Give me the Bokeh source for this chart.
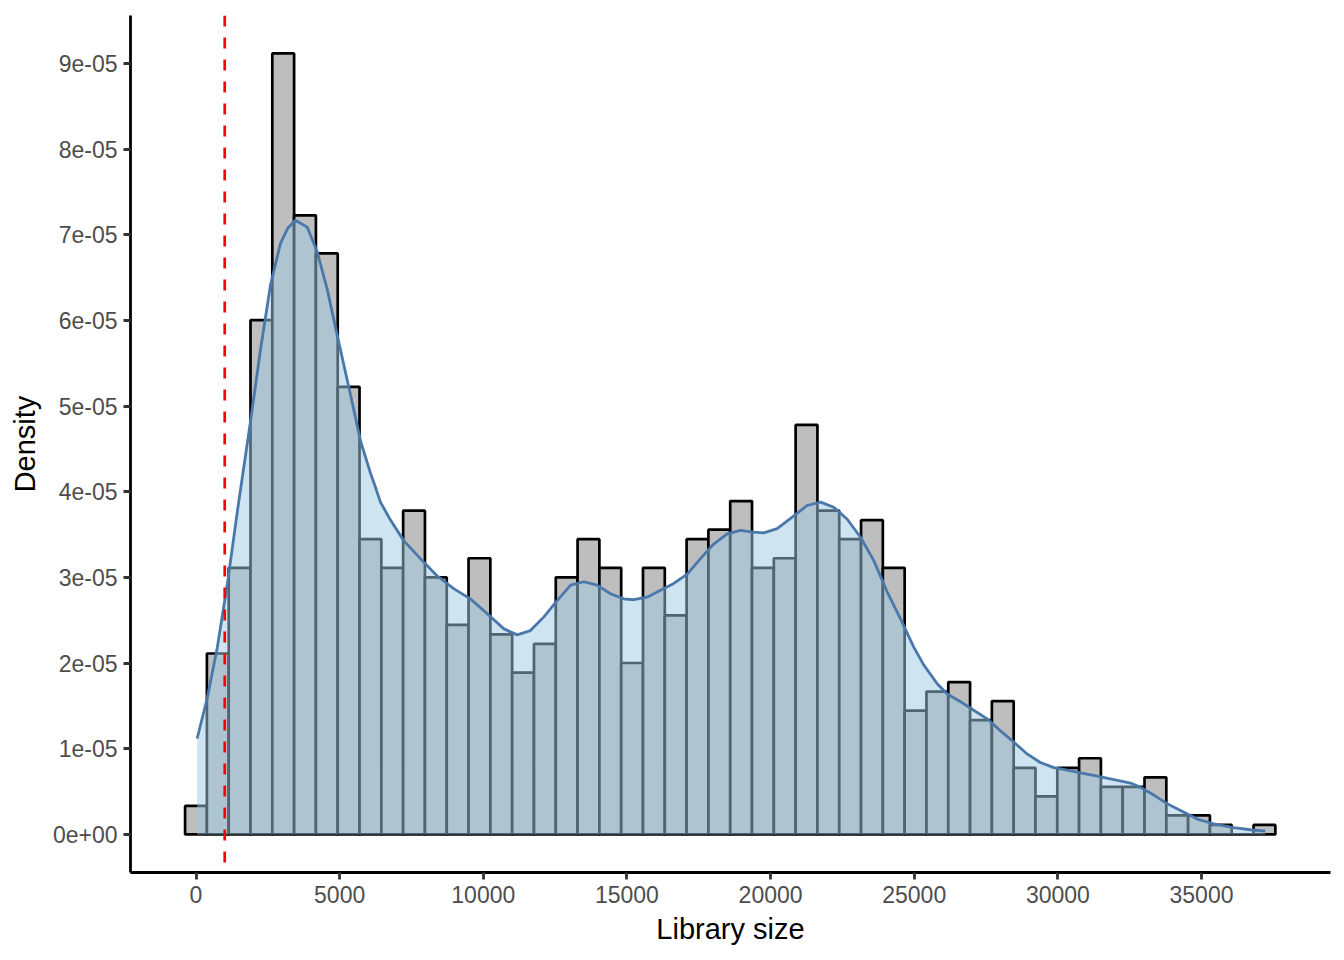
from bokeh.plotting import figure
from bokeh.models import Span, FixedTicker, Range1d
from bokeh.embed import file_html
from bokeh.resources import INLINE
import numpy as np

# ---- data ----
bin_start = -380          # left edge of first bin
bin_width = 759           # library-size units per bin
bin_counts = [3, 19, 28, 54, 82, 65, 61, 47, 31, 28,
              34, 27, 22, 29, 21, 17, 20, 27, 31, 28,
              18, 28, 23, 31, 32, 35, 28, 29, 43, 34,
              31, 33, 28, 13, 15, 16, 12, 14, 7, 4,
              7, 8, 5, 5, 6, 2, 2, 1, 0, 1]

density_x = [40, 390, 740, 1090, 1430, 1900, 2250, 2590, 2940, 3200, 3460, 3870, 4220, 4570,
             4920, 5380, 5730, 6070, 6250, 6420, 6770, 7230, 7810, 8390, 8970, 9550, 10130,
             10720, 11180, 11640, 12110, 12570, 13040, 13500, 13960, 14430, 14890, 15240,
             15700, 16170, 16630, 17100, 17560, 18020, 18490, 18950, 19420, 19760, 20230,
             20810, 21270, 21740, 22200, 22670, 23130, 23590, 24060, 24520, 24980, 25330,
             25800, 26150, 26610, 27070, 27540, 28000, 28460, 28930, 29390, 29860, 30320,
             30790, 31370, 31950, 32530, 32880, 33340, 33800, 34270, 34850, 35420, 36120,
             36700, 37220]
density_y_e5 = [1.12, 1.59, 2.18, 2.92, 3.75, 4.83, 5.67, 6.41, 6.90, 7.08, 7.17, 7.09, 6.80, 6.36,
                5.82, 5.13, 4.59, 4.22, 4.05, 3.88, 3.67, 3.43, 3.22, 3.02, 2.87, 2.75, 2.58,
                2.40, 2.33, 2.38, 2.54, 2.73, 2.91, 2.95, 2.91, 2.81, 2.75, 2.74,
                2.77, 2.85, 2.93, 3.04, 3.22, 3.39, 3.51, 3.55, 3.53, 3.52, 3.57,
                3.72, 3.84, 3.88, 3.82, 3.68, 3.47, 3.20, 2.83, 2.52, 2.19, 1.98,
                1.76, 1.64, 1.55, 1.45, 1.35, 1.21, 1.08, 0.94, 0.84, 0.78, 0.75,
                0.72, 0.68, 0.64, 0.60, 0.55, 0.46, 0.36, 0.28, 0.18, 0.125, 0.08,
                0.055, 0.04]

threshold = 1000
x_ticks = [0, 5000, 10000, 15000, 20000, 25000, 30000, 35000]
x_tick_labels = ["0", "5000", "10000", "15000", "20000", "25000", "30000", "35000"]
y_ticks = [0, 1e-5, 2e-5, 3e-5, 4e-5, 5e-5, 6e-5, 7e-5, 8e-5, 9e-5]
y_tick_labels = ["0e+00", "1e-05", "2e-05", "3e-05", "4e-05", "5e-05",
                 "6e-05", "7e-05", "8e-05", "9e-05"]

# ---- derived ----
counts = np.array(bin_counts, dtype=float)
edges = bin_start + bin_width * np.arange(len(counts) + 1)
hist_density = counts / (counts.sum() * bin_width)
dens_y = np.array(density_y_e5) * 1e-5

FONT = "Liberation Sans"

p = figure(width=1340, height=950,
           x_range=Range1d(-2280, 39490), y_range=Range1d(-4.44e-6, 9.56e-5),
           output_backend="svg", toolbar_location=None,
           min_border_left=130, min_border_right=10, min_border_top=15, min_border_bottom=78)

p.quad(left=edges[:-1], right=edges[1:], bottom=0, top=hist_density,
       fill_color="#BEBEBE", line_color="black", line_width=2.7)
p.varea(x=density_x, y1=0, y2=dens_y, fill_color="#9ECAE1", fill_alpha=0.5)
p.line(density_x, dens_y, line_color="#4A78AA", line_width=2.8, line_join="round")

p.add_layout(Span(location=threshold, dimension="height", line_color="red",
                  line_dash="11 11", line_width=2.7))

p.xgrid.grid_line_color = None
p.ygrid.grid_line_color = None
p.outline_line_color = None
p.background_fill_color = "white"

p.xaxis.ticker = FixedTicker(ticks=x_ticks)
p.xaxis.major_label_overrides = dict(zip(x_ticks, x_tick_labels))
p.yaxis.ticker = FixedTicker(ticks=y_ticks)
p.yaxis.major_label_overrides = dict(zip(y_ticks, y_tick_labels))

for ax in (p.xaxis, p.yaxis):
    ax.axis_line_color = "black"
    ax.axis_line_width = 2.8
    ax.major_tick_line_color = "#333333"
    ax.major_tick_line_width = 2.8
    ax.major_tick_out = 7
    ax.major_tick_in = 0
    ax.minor_tick_out = 0
    ax.minor_tick_in = 0
    ax.major_label_text_font = FONT
    ax.major_label_text_font_size = "23px"
    ax.major_label_text_color = "#4D4D4D"
    ax.axis_label_text_font = FONT
    ax.axis_label_text_font_size = "29px"
    ax.axis_label_text_font_style = "normal"
    ax.axis_label_text_color = "black"

p.xaxis.axis_label = "Library size"
p.yaxis.axis_label = "Density"
p.xaxis.major_label_standoff = 6
p.yaxis.major_label_standoff = 6
p.xaxis.axis_label_standoff = 7
p.yaxis.axis_label_standoff = 9

open("out.html", "w").write(file_html(p, INLINE))
